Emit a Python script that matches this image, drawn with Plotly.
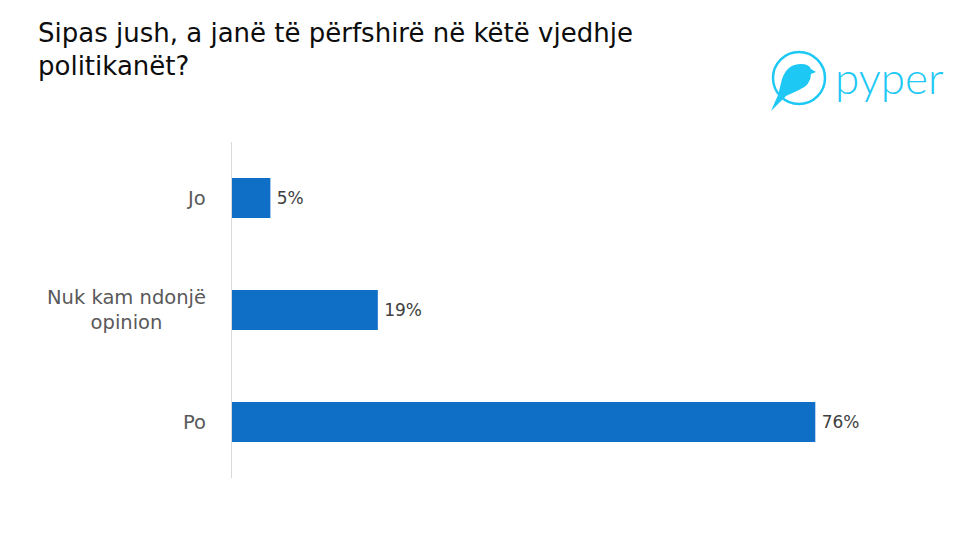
import plotly.graph_objects as go

categories = ["Jo", "Nuk kam ndonjë opinion", "Po"]
tick_labels = ["Jo", "Nuk kam ndonjë<br>opinion", "Po"]
values = [5, 19, 76]
labels = ["5%", "19%", "76%"]

OFF = 8  # browser body margin
W, H = 980 - OFF, 551 - OFF
# plot area in window pixels: x 232..846, y 142..478
L, R = 232 - OFF, W - (846 - OFF)
T, B = 142 - OFF, H - (478 - OFF)
pw, ph = W - L - R, H - T - B

def px(x):
    return (x - OFF - L) / pw

def py(y):
    return (H - B - (y - OFF)) / ph

fig = go.Figure(go.Bar(
    y=categories, x=values, orientation="h",
    marker=dict(color="#0F6FC6", line=dict(width=0)),
    width=0.357,
    text=labels, texttemplate="\u2009%{text}", textposition="outside",
    textfont=dict(size=17, color="#404040", family="DejaVu Sans"),
    cliponaxis=False,
))

for cat, tl in zip(categories, tick_labels):
    fig.add_annotation(xref="paper", yref="y", x=px(208), y=cat, xanchor="right", yanchor="middle",
                       text=tl, showarrow=False, align="center",
                       font=dict(size=19.5, color="#595959", family="DejaVu Sans"))

# title
fig.add_annotation(xref="paper", yref="paper", x=px(36), y=py(33), xanchor="left", yanchor="middle",
                   text="Sipas jush, a janë të përfshirë në këtë vjedhje", showarrow=False,
                   font=dict(size=26, color="#0d0d0d", family="DejaVu Sans"))
fig.add_annotation(xref="paper", yref="paper", x=px(36), y=py(66), xanchor="left", yanchor="middle",
                   text="politikanët?", showarrow=False,
                   font=dict(size=26, color="#0d0d0d", family="DejaVu Sans"))

# logo
cyan = "#1EC8F5"
ax, ay = px(799), py(78)
fig.add_shape(type="circle", xref="paper", yref="paper", xsizemode="pixel", ysizemode="pixel",
              xanchor=ax, yanchor=ay, x0=-26, x1=26, y0=-26, y1=26,
              line=dict(color=cyan, width=2.5))
fig.add_shape(type="path", xref="paper", yref="paper", xsizemode="pixel", ysizemode="pixel",
              xanchor=ax, yanchor=ay,
              path="M -17,-1 Q -12,14 2,14 Q 10,14 12,9 L 17,6 L 12,4 Q 12,-7 0,-12 L -13,-18 L -28,-33 L -21,-17 Z",
              fillcolor=cyan, line=dict(width=0))
fig.add_annotation(xref="paper", yref="paper", x=px(833), y=py(77), xanchor="left", yanchor="middle",
                   text="pyper", showarrow=False,
                   font=dict(size=44, color=cyan, family="Lato", weight=300))

fig.update_layout(
    width=W, height=H,
    margin=dict(l=L, r=R, t=T, b=B),
    plot_bgcolor="white", paper_bgcolor="white",
    xaxis=dict(range=[0, 80], visible=False, fixedrange=True),
    yaxis=dict(autorange="reversed", showline=True, linecolor="#D9D9D9", linewidth=1,
               showgrid=False, ticks="", showticklabels=False),
    showlegend=False,
)

fig.write_html("out.html")
